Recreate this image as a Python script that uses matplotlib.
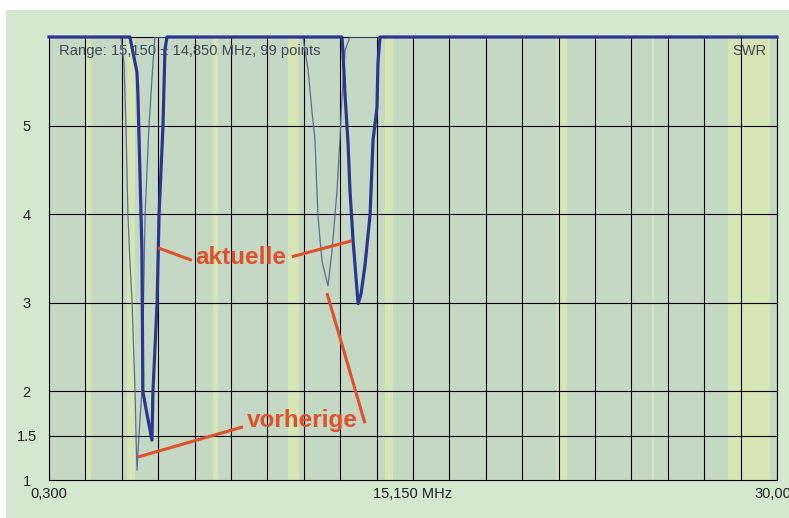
import numpy as np
import matplotlib
matplotlib.use("Agg")
import matplotlib.pyplot as plt
from matplotlib.patches import Rectangle

plt.rcParams['font.family'] = ['Liberation Sans', 'DejaVu Sans']

# sweep range (MHz) and SWR scale
f_start, f_stop = 0.3, 30.0
swr_min, swr_max = 1.0, 6.0

# current measurement (thick line), values above 6 shown at top
now_f = [0.3, 3.60, 3.89, 3.93, 4.09, 4.13, 4.26, 4.50, 4.54, 4.71, 4.79, 4.95, 5.03, 5.11,
         12.25, 12.29, 12.38, 12.50, 12.58, 12.70, 12.91, 13.03, 13.19, 13.40, 13.52, 13.68,
         13.72, 13.80, 30.0]
now_swr = [6.0, 6.0, 5.6, 5.33, 3.6, 2.0, 1.8, 1.45, 2.0, 3.0, 4.0, 5.0, 5.85, 6.0,
           6.0, 5.85, 5.33, 4.8, 4.26, 3.72, 2.99, 3.1, 3.42, 4.0, 4.84, 5.2,
           5.7, 6.0, 6.0]

# previous measurement (thin line)
prev_f = [0.3, 3.24, 3.36, 3.44, 3.52, 3.60, 3.69, 3.81, 3.85, 3.89, 3.97, 4.09, 4.22, 4.38,
          4.54, 4.62, 10.66, 10.87, 11.03, 11.15, 11.23, 11.27, 11.36, 11.44, 11.68, 11.85,
          11.97, 12.05, 12.17, 12.25, 12.38, 12.58, 30.0]
prev_swr = [6.0, 6.0, 5.7, 5.0, 4.0, 3.47, 3.0, 2.0, 1.5, 1.11, 1.5, 2.0, 4.0, 5.0,
            5.7, 6.0, 6.0, 5.63, 5.15, 4.85, 4.27, 4.0, 3.7, 3.47, 3.19, 3.6,
            4.0, 4.27, 4.85, 5.3, 5.85, 6.0, 6.0]

# amateur bands shaded in the plot (MHz)
band_lo = [1.8, 3.5, 7.0, 10.05, 14.0, 21.0, 24.89, 28.0]
band_hi = [2.0, 3.8, 7.2, 10.5, 14.35, 21.45, 24.99, 29.7]

y_grid = [1.5, 2, 3, 4, 5]
y_labels = ["1.5", "2", "3", "4", "5"]

fig = plt.figure(figsize=(7.89, 5.18), dpi=100, facecolor='white')
fig.patches.append(Rectangle((6 / 789, 0), 1, 508 / 518, transform=fig.transFigure,
                             facecolor='#d4e8d0', edgecolor='none', zorder=-2))
ax = fig.add_axes([49 / 789, 38 / 518, 728 / 789, 443 / 518])
ax.set_facecolor('#c5d8c4')

for lo, hi in zip(band_lo, band_hi):
    ax.axvspan(lo, hi, color='#d6e5b4', lw=0, zorder=0)

x_grid = np.linspace(f_start, f_stop, 21)
for xg in x_grid:
    ax.axvline(xg, color='black', lw=0.8, zorder=1)
for yg in y_grid:
    ax.axhline(yg, color='black', lw=0.8, zorder=1)

ax.plot(prev_f, prev_swr, color='#5c6a9c', lw=0.9, zorder=3)
ax.plot(now_f, now_swr, color='#2a3690', lw=2.3, zorder=4, clip_on=False)

ax.set_xlim(f_start, f_stop)
ax.set_ylim(swr_min, swr_max)

ax.set_xticks([0.3, 15.15, 30.0])
ax.set_xticklabels(["0,300", "15,150 MHz", "30,000"], fontsize=10.5, color='#222222')
ax.set_yticks([1] + y_grid)
ax.set_yticklabels(["1"] + y_labels, fontsize=10.5, color='#222222', ha='center')
ax.tick_params(axis='x', length=0, pad=5)
ax.tick_params(axis='y', length=0, pad=16)
for s in ax.spines.values():
    s.set_color('black')
    s.set_linewidth(0.8)

ax.text(0.0137, 0.968, "Range: 15,150 \u00b1 14,850 MHz, 99 points", transform=ax.transAxes,
        fontsize=10.6, color='#404858', ha='left', va='center', zorder=2)
ax.text(0.985, 0.968, "SWR", transform=ax.transAxes,
        fontsize=10.5, color='#404858', ha='right', va='center', zorder=2)

red = '#e0502a'
ax.plot([4.75, 6.13], [3.62, 3.48], color=red, lw=2.2, zorder=5, solid_capstyle='butt')
ax.plot([10.21, 12.66], [3.52, 3.70], color=red, lw=2.2, zorder=5, solid_capstyle='butt')
ax.text(8.13, 3.51, "aktuelle", color=red, fontsize=17.5, fontweight='bold',
        ha='center', va='center', zorder=5)

ax.plot([3.93, 8.22], [1.26, 1.60], color=red, lw=2.2, zorder=5, solid_capstyle='butt')
ax.plot([11.64, 13.19], [3.11, 1.64], color=red, lw=2.2, zorder=5, solid_capstyle='butt')
ax.text(10.64, 1.67, "vorherige", color=red, fontsize=17.5, fontweight='bold',
        ha='center', va='center', zorder=5)

fig.savefig("out.png", dpi=100, facecolor=fig.get_facecolor())
